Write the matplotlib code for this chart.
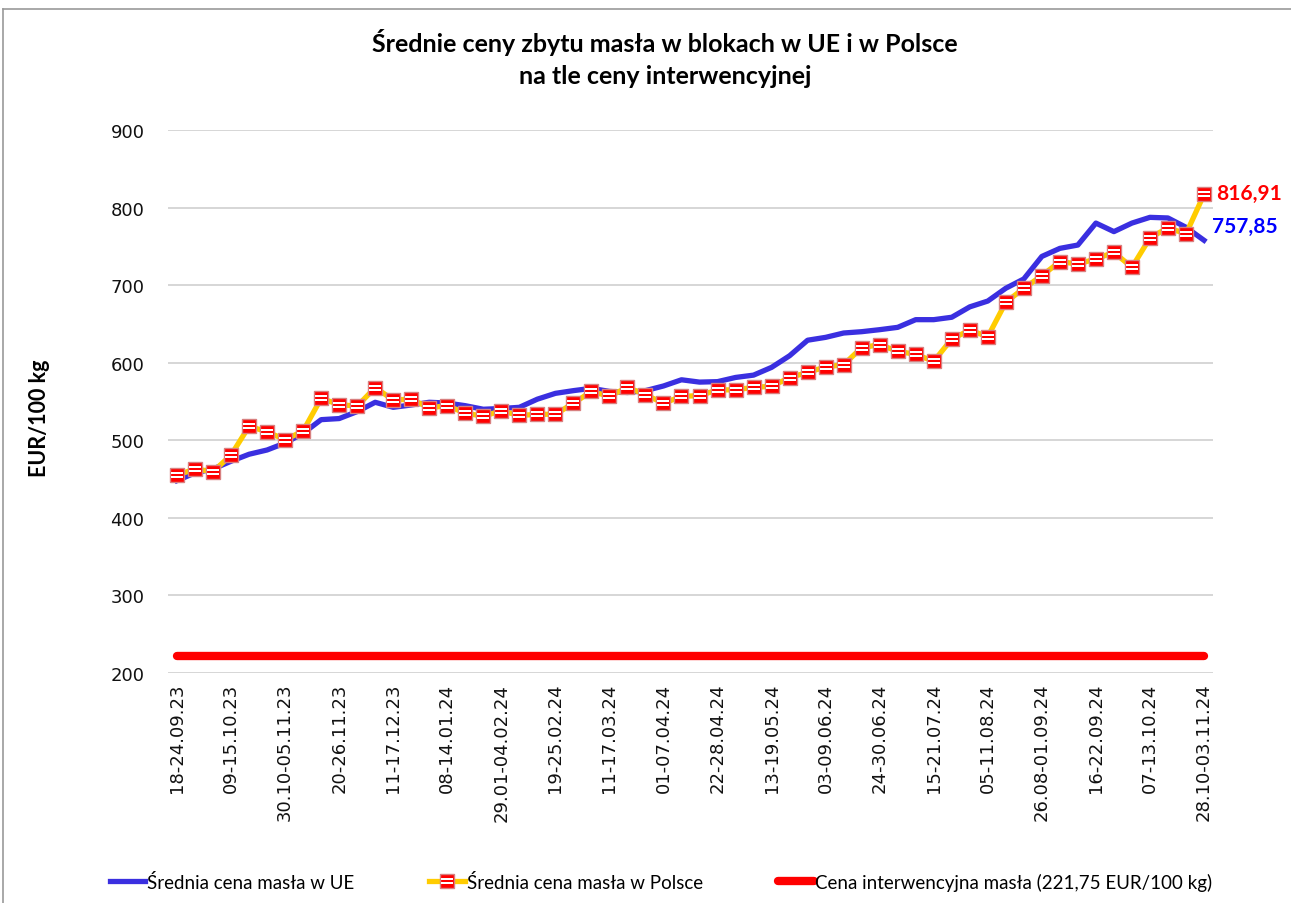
# Średnie ceny zbytu masła w blokach - UE vs Polska vs cena interwencyjna
import matplotlib
matplotlib.use('Agg')
import matplotlib.pyplot as plt
import numpy as np
from matplotlib.path import Path
from matplotlib.lines import Line2D

plt.rcParams['font.family'] = ['Lato', 'DejaVu Sans']

# tygodnie pokazane na osi (co trzeci punkt)
week_labels = ['18-24.09.23', '09-15.10.23', '30.10-05.11.23', '20-26.11.23', '11-17.12.23',
               '08-14.01.24', '29.01-04.02.24', '19-25.02.24', '11-17.03.24', '01-07.04.24',
               '22-28.04.24', '13-19.05.24', '03-09.06.24', '24-30.06.24', '15-21.07.24',
               '05-11.08.24', '26.08-01.09.24', '16-22.09.24', '07-13.10.24', '28.10-03.11.24']

eu_price = [448, 458, 463, 473, 482, 487.5, 496.5, 509, 526.6, 528, 537, 549, 542.5, 545.5, 549, 548,
            544.6, 540, 541, 542.5, 553, 560.5, 564, 567, 563, 561.6, 564, 570, 578, 575, 575.6, 581,
            584, 594, 609, 629, 632.7, 638.3, 640, 642.6, 645.6, 655.5, 655.5, 658.6, 672, 679.5,
            696, 708, 737, 747.4, 751.7, 780, 769, 780, 787.4, 786.6, 774.6, 757.85]

pl_price = [455, 463, 459.5, 481, 518, 511, 500.7, 512, 554, 546, 544, 568, 552, 553, 542, 544.6,
            535, 531, 538, 532, 533.5, 533.5, 547.7, 563, 556.7, 568.3, 558.8, 547.7, 556.7, 557.5, 565, 565,
            568.3, 569.6, 580.7, 587.6, 594.5, 597.5, 619.4, 623.3, 614.7, 610.8, 601.8, 630.6, 642, 633.5,
            677.9, 696, 712.2, 730.3, 727.3, 733.7, 742.4, 723, 760.8, 774.1, 766, 816.91]

intervention = 221.75

x = np.arange(len(eu_price))

fig = plt.figure(figsize=(12.91, 9.04), dpi=100)
ax = fig.add_axes([168/1291, 1-674/904, (1213-168)/1291, (674-131)/904])

# pasiasty marker (białe paski na czerwonym kwadracie)
verts, codes = [], []
for y0, y1 in [(0.12, 0.38), (-0.38, -0.12)]:
    verts += [(-0.8, y0), (0.8, y0), (0.8, y1), (-0.8, y1), (-0.8, y0)]
    codes += [Path.MOVETO, Path.LINETO, Path.LINETO, Path.LINETO, Path.CLOSEPOLY]
stripes = Path(verts, codes)

ms = 10
ax.plot(x, [intervention]*len(x), color='#ff0000', lw=6, solid_capstyle='round', zorder=2)
eu_line, = ax.plot(x, eu_price, color='#3a2fe0', lw=3.8, solid_joinstyle='round', zorder=3)
pl_line, = ax.plot(x, pl_price, color='#ffcc00', lw=3.8, marker='s', ms=ms,
                   markerfacecolor='#ff0000', markeredgecolor='#d88080', markeredgewidth=1.0,
                   zorder=4)
pl_str, = ax.plot(x, pl_price, ls='none', marker=stripes, ms=ms*0.8,
                  markerfacecolor='white', markeredgewidth=0, zorder=5)

ax.set_xlim(-0.5, len(x)-0.5)
ax.set_ylim(200, 900)
ax.set_yticks(np.arange(200, 901, 100))
ax.set_xticks(x[::3])
ax.set_xticklabels(week_labels, rotation=90, ha='center', va='top')
for lab in ax.get_xticklabels() + ax.get_yticklabels():
    lab.set_family('DejaVu Sans')
ax.tick_params(axis='x', length=0, pad=7, labelsize=13, colors='#111111')
ax.tick_params(axis='y', length=0, pad=17, labelsize=13, colors='#111111')
ax.grid(axis='y', color='#d0d0d0', lw=1.2)
ax.set_axisbelow(True)
for s in ax.spines.values():
    s.set_visible(False)

# wartości końcowe
ax.annotate(f'{pl_price[-1]:.2f}'.replace('.', ','), (x[-1], pl_price[-1]), xytext=(9, 1),
            textcoords='offset points', color='#ff0000', fontsize=15, fontweight='bold',
            va='center', ha='left', annotation_clip=False)
ax.annotate(f'{eu_price[-1]:.2f}'.replace('.', ','), (x[-1], eu_price[-1]), xytext=(6, 10),
            textcoords='offset points', color='#0000ff', fontsize=15, fontweight='bold',
            va='center', ha='left', annotation_clip=False)

fig.text(665/1291, 1-42/904, 'Średnie ceny zbytu masła w blokach w UE i w Polsce',
         ha='center', va='center', fontsize=18, fontweight='bold')
fig.text(665/1291, 1-76/904, 'na tle ceny interwencyjnej',
         ha='center', va='center', fontsize=18, fontweight='bold')
fig.text(40/1291, 1-418/904, 'EUR/100 kg', rotation=90, ha='center', va='center',
         fontsize=15.5, fontweight='bold')

red_handle = Line2D([], [], color='#ff0000', lw=6, solid_capstyle='round')
fig.legend([eu_line, (pl_line, pl_str), red_handle],
           ['Średnia cena masła w UE', 'Średnia cena masła w Polsce',
            'Cena interwencyjna masła (221,75 EUR/100 kg)'],
           loc='center', bbox_to_anchor=(661/1291, 1-883/904), ncol=3, frameon=False,
           fontsize=13.5, handlelength=1.9, handletextpad=0.1, columnspacing=4.0)

# ramka wykresu
fig.add_artist(Line2D([3/1291, 1], [1-10/904, 1-10/904], color='#999999', lw=1.2))
fig.add_artist(Line2D([3/1291, 3/1291], [0, 1-10/904], color='#999999', lw=1.2))

fig.savefig('out.png', dpi=100)
